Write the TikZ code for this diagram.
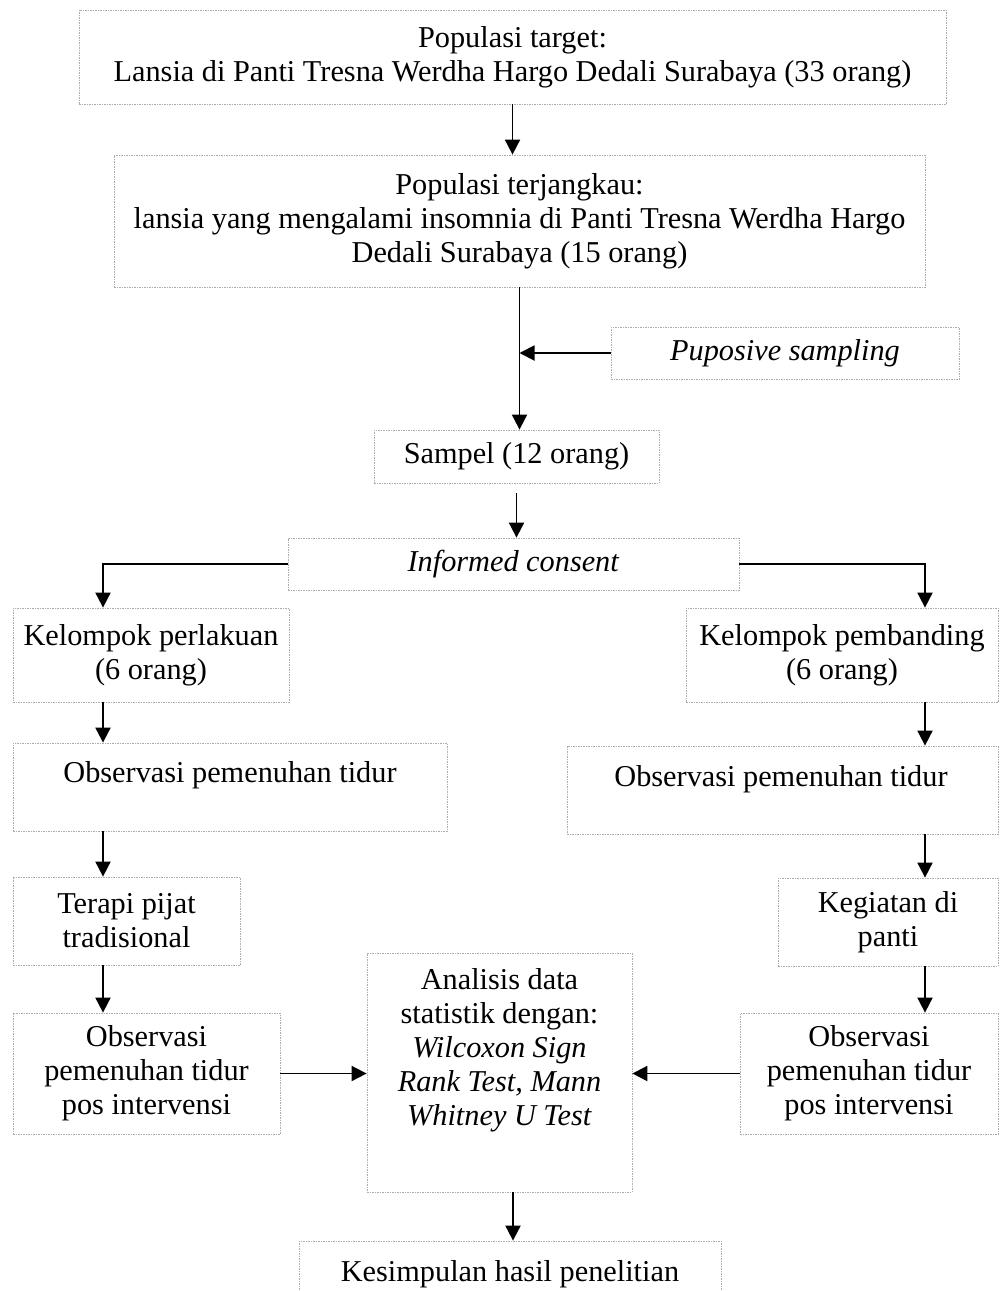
\documentclass[tikz,border=0pt]{standalone}
\usepackage{fontspec}
\setmainfont{Liberation Serif}
\usetikzlibrary{arrows.meta,calc}

\begin{document}
\begin{tikzpicture}[x=1pt,y=-1pt,>={Triangle[length=15pt,width=15pt]},
  kotak/.style={draw=gray!65,dash pattern=on 1.5pt off 1pt,line width=.8pt,align=center,inner sep=0pt},
  teks/.style={align=center,inner sep=0pt},
  panah/.style={->,line width=1.9pt},
  font=\fontsize{30.3}{34}\selectfont]
\useasboundingbox (0,0) rectangle (1001,1291);
\node[kotak,minimum width=867pt,minimum height=94pt] (target) at (512.5,57) {Populasi target:\\Lansia di Panti Tresna Werdha Hargo Dedali Surabaya (33 orang)};
\node[kotak,minimum width=811pt,minimum height=132pt] (jangkau) at (519.5,221) {Populasi terjangkau:\\lansia yang mengalami insomnia di Panti Tresna Werdha Hargo\\Dedali Surabaya (15 orang)};
\node[kotak,minimum width=348pt,minimum height=52pt] (puposive) at (785,353) {\textit{Puposive sampling}};
\node[kotak,minimum width=285pt,minimum height=53pt] (sampel) at (516.5,456.5) {Sampel (12 orang)};
\node[kotak,minimum width=451pt,minimum height=52pt] (informed) at (513.5,564) {\textit{Informed consent}};
\node[kotak,minimum width=276pt,minimum height=94pt] (perlakuan) at (151,655) {Kelompok perlakuan\\(6 orang)};
\node[kotak,minimum width=312pt,minimum height=94pt] (pembanding) at (842,655) {Kelompok pembanding\\(6 orang)};
\node[kotak,minimum width=434pt,minimum height=88pt] (obsL) at (230,787) {};
\node[teks] (obsLTeks) at (230,775) {Observasi pemenuhan tidur};
\node[kotak,minimum width=431pt,minimum height=88pt] (obsR) at (782.5,790) {};
\node[teks] (obsRTeks) at (781,779) {Observasi pemenuhan tidur};
\node[kotak,minimum width=227pt,minimum height=88pt] (terapi) at (126.5,921) {Terapi pijat\\tradisional};
\node[kotak,minimum width=220pt,minimum height=88pt] (kegiatan) at (888,922) {Kegiatan di\\panti};
\node[kotak,minimum width=267pt,minimum height=121pt] (postL) at (146.5,1073.5) {Observasi\\pemenuhan tidur\\pos intervensi};
\node[kotak,minimum width=258pt,minimum height=121pt] (postR) at (869,1073.5) {Observasi\\pemenuhan tidur\\pos intervensi};
\node[kotak,minimum width=265pt,minimum height=239pt] (analisis) at (499.5,1072.5) {};
\node[teks] (analisisTeks) at (499.5,1050) {Analisis data\\statistik dengan:\\\textit{Wilcoxon Sign}\\\textit{Rank Test, Mann}\\\textit{Whitney U Test}};
\node[kotak,minimum width=422pt,minimum height=79pt] (kesimpulan) at (510,1280.5) {};
\node[teks] (kesimpulanTeks) at (510,1274) {Kesimpulan hasil penelitian};
\coordinate (kiri) at (103,0);
\coordinate (kanan) at (925,0);
\coordinate (tengah) at (513,0);
\draw[panah] (target.south) -- (target.south |- jangkau.north);
\draw[panah] (jangkau.south) -- (jangkau.south |- sampel.north);
\draw[panah] (puposive.west) -- (puposive.west -| jangkau.south);
\draw[panah] ([yshift=-10pt]sampel.south) -- (sampel.south |- informed.north);
\draw[panah] (informed.west) -| (kiri |- perlakuan.north);
\draw[panah] (informed.east) -| (kanan |- pembanding.north);
\draw[panah] (kiri |- perlakuan.south) -- (kiri |- obsL.north);
\draw[panah] (kanan |- pembanding.south) -- (kanan |- obsR.north);
\draw[panah] (kiri |- obsL.south) -- (kiri |- terapi.north);
\draw[panah] (kanan |- obsR.south) -- (kanan |- kegiatan.north);
\draw[panah] (kiri |- terapi.south) -- (kiri |- postL.north);
\draw[panah] (kanan |- kegiatan.south) -- (kanan |- postR.north);
\draw[panah] (postL.east) -- (postL.east -| analisis.west);
\draw[panah] (postR.west) -- (postR.west -| analisis.east);
\draw[panah] (tengah |- analisis.south) -- (tengah |- kesimpulan.north);
\end{tikzpicture}
\end{document}
